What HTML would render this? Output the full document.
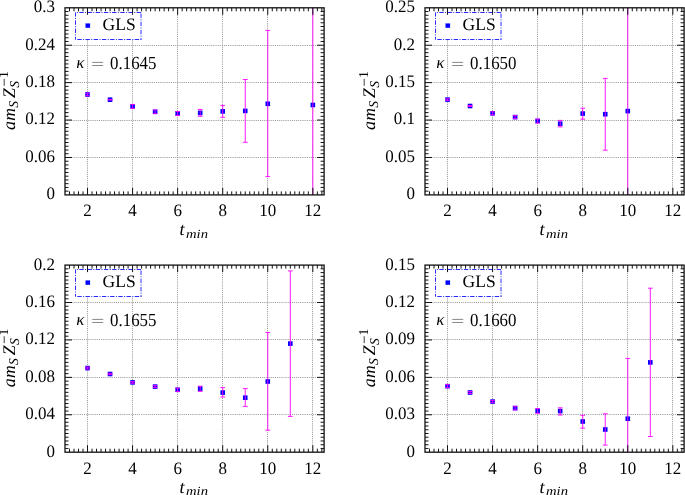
<!DOCTYPE html><html><head><meta charset="utf-8"><style>html,body{margin:0;padding:0;background:#fff;width:685px;height:495px;overflow:hidden}svg{display:block;will-change:transform}text{font-family:"Liberation Serif", serif;fill:#000;text-rendering:geometricPrecision}.i{font-style:italic}</style></head><body>
<svg width="685" height="495" viewBox="0 0 685 495">
<rect width="685" height="495" fill="#fff"/>
<g><defs><clipPath id="c00"><rect x="65" y="7.8" width="259.1" height="187.1"/></clipPath></defs><path d="M87.5 194V7.8M132.5 194V7.8M177.5 194V7.8M222.5 194V7.8M267.5 194V7.8M312.5 194V7.8M65 157.5H324.1M65 120.5H324.1M65 82.5H324.1M65 45.5H324.1" stroke="#999" stroke-width="1" stroke-dasharray="1.06 1.06" fill="none"/><g clip-path="url(#c00)"><rect x="85.23" y="92.2" width="4.6" height="4.6" fill="#0000ff"/><rect x="107.76" y="97.4" width="4.6" height="4.6" fill="#0000ff"/><rect x="130.29" y="104.1" width="4.6" height="4.6" fill="#0000ff"/><rect x="152.82" y="109.5" width="4.6" height="4.6" fill="#0000ff"/><rect x="175.35" y="111.2" width="4.6" height="4.6" fill="#0000ff"/><rect x="197.88" y="110.6" width="4.6" height="4.6" fill="#0000ff"/><rect x="220.41" y="109.1" width="4.6" height="4.6" fill="#0000ff"/><rect x="242.94" y="108.6" width="4.6" height="4.6" fill="#0000ff"/><rect x="265.47" y="101.5" width="4.6" height="4.6" fill="#0000ff"/><rect x="310.53" y="102.7" width="4.6" height="4.6" fill="#0000ff"/><path d="M87.53 93.2V95.8M85.13 93.2H89.93M85.13 95.8H89.93M110.06 99.4V100M107.66 99.4H112.46M107.66 100H112.46M132.59 104.4V108.4M130.19 104.4H134.99M130.19 108.4H134.99M155.12 110V113.6M152.72 110H157.52M152.72 113.6H157.52M177.65 111.5V115.5M175.25 111.5H180.05M175.25 115.5H180.05M200.18 109.4V116.3M197.78 109.4H202.58M197.78 116.3H202.58M222.71 105.4V117.3M220.31 105.4H225.11M220.31 117.3H225.11M245.24 79.5V142.3M242.84 79.5H247.64M242.84 142.3H247.64M267.77 30.4V176.6M265.37 30.4H270.17M265.37 176.6H270.17M312.83 -100V400M310.43 -100H315.23M310.43 400H315.23" stroke="#ff00ff" stroke-width="0.9" fill="none"/></g><rect x="75.5" y="12.5" width="66" height="27" fill="#fff"/><path d="M75.5 12.5H141.5" stroke="#2a2aff" stroke-width="1" stroke-dasharray="4.4 1.4 1 1.4" fill="none" stroke-dashoffset="4.4"/><path d="M75.5 39.5H141.5" stroke="#2a2aff" stroke-width="1" stroke-dasharray="4.4 1.4 1 1.4" fill="none" stroke-dashoffset="6.4"/><path d="M75.5 12.5V39.5" stroke="#2a2aff" stroke-width="1" stroke-dasharray="4.4 1.4 1 1.4" fill="none" stroke-dashoffset="0.3"/><path d="M141 12.5V39.5" stroke="#2a2aff" stroke-width="1" stroke-dasharray="4.4 1.4 1 1.4" fill="none" stroke-dashoffset="7.2"/><rect x="85.5" y="23.4" width="4.6" height="4.4" fill="#0000ff"/><text x="102.6" y="29.9" font-size="17.5">GLS</text><text class="i" x="76.3" y="68.2" font-size="17">κ</text><path d="M92.2 62.4H103.2M92.2 65.5H103.2" stroke="#888" stroke-width="1"/><text transform="translate(110.1 68.7) scale(0.91 1)" font-size="18.5">0.1645</text><path d="M69.51 194.9v-3.5M69.51 7.8v3.5M74.01 194.9v-3.5M74.01 7.8v3.5M78.52 194.9v-3.5M78.52 7.8v3.5M83.02 194.9v-3.5M83.02 7.8v3.5M87.53 194.9v-7M87.53 7.8v7M92.04 194.9v-3.5M92.04 7.8v3.5M96.54 194.9v-3.5M96.54 7.8v3.5M101.05 194.9v-3.5M101.05 7.8v3.5M105.55 194.9v-3.5M105.55 7.8v3.5M110.06 194.9v-3.5M110.06 7.8v3.5M114.57 194.9v-3.5M114.57 7.8v3.5M119.07 194.9v-3.5M119.07 7.8v3.5M123.58 194.9v-3.5M123.58 7.8v3.5M128.09 194.9v-3.5M128.09 7.8v3.5M132.59 194.9v-7M132.59 7.8v7M137.1 194.9v-3.5M137.1 7.8v3.5M141.6 194.9v-3.5M141.6 7.8v3.5M146.11 194.9v-3.5M146.11 7.8v3.5M150.62 194.9v-3.5M150.62 7.8v3.5M155.12 194.9v-3.5M155.12 7.8v3.5M159.63 194.9v-3.5M159.63 7.8v3.5M164.13 194.9v-3.5M164.13 7.8v3.5M168.64 194.9v-3.5M168.64 7.8v3.5M173.15 194.9v-3.5M173.15 7.8v3.5M177.65 194.9v-7M177.65 7.8v7M182.16 194.9v-3.5M182.16 7.8v3.5M186.66 194.9v-3.5M186.66 7.8v3.5M191.17 194.9v-3.5M191.17 7.8v3.5M195.68 194.9v-3.5M195.68 7.8v3.5M200.18 194.9v-3.5M200.18 7.8v3.5M204.69 194.9v-3.5M204.69 7.8v3.5M209.19 194.9v-3.5M209.19 7.8v3.5M213.7 194.9v-3.5M213.7 7.8v3.5M218.21 194.9v-3.5M218.21 7.8v3.5M222.71 194.9v-7M222.71 7.8v7M227.22 194.9v-3.5M227.22 7.8v3.5M231.73 194.9v-3.5M231.73 7.8v3.5M236.23 194.9v-3.5M236.23 7.8v3.5M240.74 194.9v-3.5M240.74 7.8v3.5M245.24 194.9v-3.5M245.24 7.8v3.5M249.75 194.9v-3.5M249.75 7.8v3.5M254.26 194.9v-3.5M254.26 7.8v3.5M258.76 194.9v-3.5M258.76 7.8v3.5M263.27 194.9v-3.5M263.27 7.8v3.5M267.77 194.9v-7M267.77 7.8v7M272.28 194.9v-3.5M272.28 7.8v3.5M276.79 194.9v-3.5M276.79 7.8v3.5M281.29 194.9v-3.5M281.29 7.8v3.5M285.8 194.9v-3.5M285.8 7.8v3.5M290.3 194.9v-3.5M290.3 7.8v3.5M294.81 194.9v-3.5M294.81 7.8v3.5M299.32 194.9v-3.5M299.32 7.8v3.5M303.82 194.9v-3.5M303.82 7.8v3.5M308.33 194.9v-3.5M308.33 7.8v3.5M312.83 194.9v-7M312.83 7.8v7M317.34 194.9v-3.5M317.34 7.8v3.5M321.85 194.9v-3.5M321.85 7.8v3.5M65 191.16h3.5M324.1 191.16h-3.5M65 187.42h3.5M324.1 187.42h-3.5M65 183.67h3.5M324.1 183.67h-3.5M65 179.93h3.5M324.1 179.93h-3.5M65 176.19h3.5M324.1 176.19h-3.5M65 172.45h3.5M324.1 172.45h-3.5M65 168.71h3.5M324.1 168.71h-3.5M65 164.96h3.5M324.1 164.96h-3.5M65 161.22h3.5M324.1 161.22h-3.5M65 157.48h7M324.1 157.48h-7M65 153.74h3.5M324.1 153.74h-3.5M65 150h3.5M324.1 150h-3.5M65 146.25h3.5M324.1 146.25h-3.5M65 142.51h3.5M324.1 142.51h-3.5M65 138.77h3.5M324.1 138.77h-3.5M65 135.03h3.5M324.1 135.03h-3.5M65 131.29h3.5M324.1 131.29h-3.5M65 127.54h3.5M324.1 127.54h-3.5M65 123.8h3.5M324.1 123.8h-3.5M65 120.06h7M324.1 120.06h-7M65 116.32h3.5M324.1 116.32h-3.5M65 112.58h3.5M324.1 112.58h-3.5M65 108.83h3.5M324.1 108.83h-3.5M65 105.09h3.5M324.1 105.09h-3.5M65 101.35h3.5M324.1 101.35h-3.5M65 97.61h3.5M324.1 97.61h-3.5M65 93.87h3.5M324.1 93.87h-3.5M65 90.12h3.5M324.1 90.12h-3.5M65 86.38h3.5M324.1 86.38h-3.5M65 82.64h7M324.1 82.64h-7M65 78.9h3.5M324.1 78.9h-3.5M65 75.16h3.5M324.1 75.16h-3.5M65 71.41h3.5M324.1 71.41h-3.5M65 67.67h3.5M324.1 67.67h-3.5M65 63.93h3.5M324.1 63.93h-3.5M65 60.19h3.5M324.1 60.19h-3.5M65 56.45h3.5M324.1 56.45h-3.5M65 52.7h3.5M324.1 52.7h-3.5M65 48.96h3.5M324.1 48.96h-3.5M65 45.22h7M324.1 45.22h-7M65 41.48h3.5M324.1 41.48h-3.5M65 37.74h3.5M324.1 37.74h-3.5M65 33.99h3.5M324.1 33.99h-3.5M65 30.25h3.5M324.1 30.25h-3.5M65 26.51h3.5M324.1 26.51h-3.5M65 22.77h3.5M324.1 22.77h-3.5M65 19.03h3.5M324.1 19.03h-3.5M65 15.28h3.5M324.1 15.28h-3.5M65 11.54h3.5M324.1 11.54h-3.5" stroke="#111" stroke-width="1" fill="none"/><rect x="65" y="7.8" width="259.1" height="187.1" fill="none" stroke="#111" stroke-width="1.3"/><text transform="translate(54.9 199.3) scale(0.97 1)" font-size="17.5" text-anchor="end">0</text><text transform="translate(54.9 161.88) scale(0.97 1)" font-size="17.5" text-anchor="end">0.06</text><text transform="translate(54.9 124.46) scale(0.97 1)" font-size="17.5" text-anchor="end">0.12</text><text transform="translate(54.9 87.04) scale(0.97 1)" font-size="17.5" text-anchor="end">0.18</text><text transform="translate(54.9 49.62) scale(0.97 1)" font-size="17.5" text-anchor="end">0.24</text><text transform="translate(54.9 12.2) scale(0.97 1)" font-size="17.5" text-anchor="end">0.3</text><text transform="translate(87.53 216.2) scale(0.97 1)" font-size="17.5" text-anchor="middle">2</text><text transform="translate(132.59 216.2) scale(0.97 1)" font-size="17.5" text-anchor="middle">4</text><text transform="translate(177.65 216.2) scale(0.97 1)" font-size="17.5" text-anchor="middle">6</text><text transform="translate(222.71 216.2) scale(0.97 1)" font-size="17.5" text-anchor="middle">8</text><text transform="translate(267.77 216.2) scale(0.97 1)" font-size="17.5" text-anchor="middle">10</text><text transform="translate(312.83 216.2) scale(0.97 1)" font-size="17.5" text-anchor="middle">12</text><text class="i" x="179.6" y="235.3" font-size="18">t</text><text class="i" x="186" y="237.5" font-size="12.5" textLength="22" lengthAdjust="spacingAndGlyphs">min</text><g transform="translate(14.8 131) rotate(-90)"><text class="i" x="1.1" y="0" font-size="18">a</text><text class="i" x="10.2" y="0" font-size="17.5">m</text><text class="i" x="23.3" y="3.2" font-size="13.5">S</text><text class="i" x="33.0" y="0" font-size="17.7">Z</text><text class="i" x="43.3" y="4.2" font-size="13.5">S</text><path d="M45.2 -10.6H52.1" stroke="#111" stroke-width="0.8"/><text x="52.9" y="-7.2" font-size="13.5">1</text></g></g>
<g><defs><clipPath id="c10"><rect x="425" y="7.8" width="259.1" height="187.1"/></clipPath></defs><path d="M447.5 194V7.8M492.5 194V7.8M537.5 194V7.8M582.5 194V7.8M627.5 194V7.8M672.5 194V7.8M425 157.5H684.1M425 120.5H684.1M425 82.5H684.1M425 45.5H684.1" stroke="#999" stroke-width="1" stroke-dasharray="1.06 1.06" fill="none"/><g clip-path="url(#c10)"><rect x="445.23" y="97.3" width="4.6" height="4.6" fill="#0000ff"/><rect x="467.76" y="103.7" width="4.6" height="4.6" fill="#0000ff"/><rect x="490.29" y="111" width="4.6" height="4.6" fill="#0000ff"/><rect x="512.82" y="114.8" width="4.6" height="4.6" fill="#0000ff"/><rect x="535.35" y="118.7" width="4.6" height="4.6" fill="#0000ff"/><rect x="557.88" y="121.4" width="4.6" height="4.6" fill="#0000ff"/><rect x="580.41" y="111.3" width="4.6" height="4.6" fill="#0000ff"/><rect x="602.94" y="111.9" width="4.6" height="4.6" fill="#0000ff"/><rect x="625.47" y="108.8" width="4.6" height="4.6" fill="#0000ff"/><path d="M447.53 98.8V100.4M445.13 98.8H449.93M445.13 100.4H449.93M470.06 105.5V106.5M467.66 105.5H472.46M467.66 106.5H472.46M492.59 111.8V114.8M490.19 111.8H494.99M490.19 114.8H494.99M515.12 115.6V118.6M512.72 115.6H517.52M512.72 118.6H517.52M537.65 119V123M535.25 119H540.05M535.25 123H540.05M560.18 120.4V126.9M557.78 120.4H562.58M557.78 126.9H562.58M582.71 108.2V119.2M580.31 108.2H585.11M580.31 119.2H585.11M605.24 78.4V150.2M602.84 78.4H607.64M602.84 150.2H607.64M627.77 -100V400M625.37 -100H630.17M625.37 400H630.17" stroke="#ff00ff" stroke-width="0.9" fill="none"/></g><rect x="435.5" y="12.5" width="66" height="27" fill="#fff"/><path d="M435.5 12.5H501.5" stroke="#2a2aff" stroke-width="1" stroke-dasharray="4.4 1.4 1 1.4" fill="none" stroke-dashoffset="4.4"/><path d="M435.5 39.5H501.5" stroke="#2a2aff" stroke-width="1" stroke-dasharray="4.4 1.4 1 1.4" fill="none" stroke-dashoffset="6.4"/><path d="M435.5 12.5V39.5" stroke="#2a2aff" stroke-width="1" stroke-dasharray="4.4 1.4 1 1.4" fill="none" stroke-dashoffset="0.3"/><path d="M501 12.5V39.5" stroke="#2a2aff" stroke-width="1" stroke-dasharray="4.4 1.4 1 1.4" fill="none" stroke-dashoffset="7.2"/><rect x="445.5" y="23.4" width="4.6" height="4.4" fill="#0000ff"/><text x="462.6" y="29.9" font-size="17.5">GLS</text><text class="i" x="436.3" y="68.2" font-size="17">κ</text><path d="M452.2 62.4H463.2M452.2 65.5H463.2" stroke="#888" stroke-width="1"/><text transform="translate(470.1 68.7) scale(0.91 1)" font-size="18.5">0.1650</text><path d="M429.51 194.9v-3.5M429.51 7.8v3.5M434.01 194.9v-3.5M434.01 7.8v3.5M438.52 194.9v-3.5M438.52 7.8v3.5M443.02 194.9v-3.5M443.02 7.8v3.5M447.53 194.9v-7M447.53 7.8v7M452.04 194.9v-3.5M452.04 7.8v3.5M456.54 194.9v-3.5M456.54 7.8v3.5M461.05 194.9v-3.5M461.05 7.8v3.5M465.55 194.9v-3.5M465.55 7.8v3.5M470.06 194.9v-3.5M470.06 7.8v3.5M474.57 194.9v-3.5M474.57 7.8v3.5M479.07 194.9v-3.5M479.07 7.8v3.5M483.58 194.9v-3.5M483.58 7.8v3.5M488.09 194.9v-3.5M488.09 7.8v3.5M492.59 194.9v-7M492.59 7.8v7M497.1 194.9v-3.5M497.1 7.8v3.5M501.6 194.9v-3.5M501.6 7.8v3.5M506.11 194.9v-3.5M506.11 7.8v3.5M510.62 194.9v-3.5M510.62 7.8v3.5M515.12 194.9v-3.5M515.12 7.8v3.5M519.63 194.9v-3.5M519.63 7.8v3.5M524.13 194.9v-3.5M524.13 7.8v3.5M528.64 194.9v-3.5M528.64 7.8v3.5M533.15 194.9v-3.5M533.15 7.8v3.5M537.65 194.9v-7M537.65 7.8v7M542.16 194.9v-3.5M542.16 7.8v3.5M546.66 194.9v-3.5M546.66 7.8v3.5M551.17 194.9v-3.5M551.17 7.8v3.5M555.68 194.9v-3.5M555.68 7.8v3.5M560.18 194.9v-3.5M560.18 7.8v3.5M564.69 194.9v-3.5M564.69 7.8v3.5M569.19 194.9v-3.5M569.19 7.8v3.5M573.7 194.9v-3.5M573.7 7.8v3.5M578.21 194.9v-3.5M578.21 7.8v3.5M582.71 194.9v-7M582.71 7.8v7M587.22 194.9v-3.5M587.22 7.8v3.5M591.73 194.9v-3.5M591.73 7.8v3.5M596.23 194.9v-3.5M596.23 7.8v3.5M600.74 194.9v-3.5M600.74 7.8v3.5M605.24 194.9v-3.5M605.24 7.8v3.5M609.75 194.9v-3.5M609.75 7.8v3.5M614.26 194.9v-3.5M614.26 7.8v3.5M618.76 194.9v-3.5M618.76 7.8v3.5M623.27 194.9v-3.5M623.27 7.8v3.5M627.77 194.9v-7M627.77 7.8v7M632.28 194.9v-3.5M632.28 7.8v3.5M636.79 194.9v-3.5M636.79 7.8v3.5M641.29 194.9v-3.5M641.29 7.8v3.5M645.8 194.9v-3.5M645.8 7.8v3.5M650.3 194.9v-3.5M650.3 7.8v3.5M654.81 194.9v-3.5M654.81 7.8v3.5M659.32 194.9v-3.5M659.32 7.8v3.5M663.82 194.9v-3.5M663.82 7.8v3.5M668.33 194.9v-3.5M668.33 7.8v3.5M672.83 194.9v-7M672.83 7.8v7M677.34 194.9v-3.5M677.34 7.8v3.5M681.85 194.9v-3.5M681.85 7.8v3.5M425 191.16h3.5M684.1 191.16h-3.5M425 187.42h3.5M684.1 187.42h-3.5M425 183.67h3.5M684.1 183.67h-3.5M425 179.93h3.5M684.1 179.93h-3.5M425 176.19h3.5M684.1 176.19h-3.5M425 172.45h3.5M684.1 172.45h-3.5M425 168.71h3.5M684.1 168.71h-3.5M425 164.96h3.5M684.1 164.96h-3.5M425 161.22h3.5M684.1 161.22h-3.5M425 157.48h7M684.1 157.48h-7M425 153.74h3.5M684.1 153.74h-3.5M425 150h3.5M684.1 150h-3.5M425 146.25h3.5M684.1 146.25h-3.5M425 142.51h3.5M684.1 142.51h-3.5M425 138.77h3.5M684.1 138.77h-3.5M425 135.03h3.5M684.1 135.03h-3.5M425 131.29h3.5M684.1 131.29h-3.5M425 127.54h3.5M684.1 127.54h-3.5M425 123.8h3.5M684.1 123.8h-3.5M425 120.06h7M684.1 120.06h-7M425 116.32h3.5M684.1 116.32h-3.5M425 112.58h3.5M684.1 112.58h-3.5M425 108.83h3.5M684.1 108.83h-3.5M425 105.09h3.5M684.1 105.09h-3.5M425 101.35h3.5M684.1 101.35h-3.5M425 97.61h3.5M684.1 97.61h-3.5M425 93.87h3.5M684.1 93.87h-3.5M425 90.12h3.5M684.1 90.12h-3.5M425 86.38h3.5M684.1 86.38h-3.5M425 82.64h7M684.1 82.64h-7M425 78.9h3.5M684.1 78.9h-3.5M425 75.16h3.5M684.1 75.16h-3.5M425 71.41h3.5M684.1 71.41h-3.5M425 67.67h3.5M684.1 67.67h-3.5M425 63.93h3.5M684.1 63.93h-3.5M425 60.19h3.5M684.1 60.19h-3.5M425 56.45h3.5M684.1 56.45h-3.5M425 52.7h3.5M684.1 52.7h-3.5M425 48.96h3.5M684.1 48.96h-3.5M425 45.22h7M684.1 45.22h-7M425 41.48h3.5M684.1 41.48h-3.5M425 37.74h3.5M684.1 37.74h-3.5M425 33.99h3.5M684.1 33.99h-3.5M425 30.25h3.5M684.1 30.25h-3.5M425 26.51h3.5M684.1 26.51h-3.5M425 22.77h3.5M684.1 22.77h-3.5M425 19.03h3.5M684.1 19.03h-3.5M425 15.28h3.5M684.1 15.28h-3.5M425 11.54h3.5M684.1 11.54h-3.5" stroke="#111" stroke-width="1" fill="none"/><rect x="425" y="7.8" width="259.1" height="187.1" fill="none" stroke="#111" stroke-width="1.3"/><text transform="translate(414.9 199.3) scale(0.97 1)" font-size="17.5" text-anchor="end">0</text><text transform="translate(414.9 161.88) scale(0.97 1)" font-size="17.5" text-anchor="end">0.05</text><text transform="translate(414.9 124.46) scale(0.97 1)" font-size="17.5" text-anchor="end">0.1</text><text transform="translate(414.9 87.04) scale(0.97 1)" font-size="17.5" text-anchor="end">0.15</text><text transform="translate(414.9 49.62) scale(0.97 1)" font-size="17.5" text-anchor="end">0.2</text><text transform="translate(414.9 12.2) scale(0.97 1)" font-size="17.5" text-anchor="end">0.25</text><text transform="translate(447.53 216.2) scale(0.97 1)" font-size="17.5" text-anchor="middle">2</text><text transform="translate(492.59 216.2) scale(0.97 1)" font-size="17.5" text-anchor="middle">4</text><text transform="translate(537.65 216.2) scale(0.97 1)" font-size="17.5" text-anchor="middle">6</text><text transform="translate(582.71 216.2) scale(0.97 1)" font-size="17.5" text-anchor="middle">8</text><text transform="translate(627.77 216.2) scale(0.97 1)" font-size="17.5" text-anchor="middle">10</text><text transform="translate(672.83 216.2) scale(0.97 1)" font-size="17.5" text-anchor="middle">12</text><text class="i" x="539.6" y="235.3" font-size="18">t</text><text class="i" x="546" y="237.5" font-size="12.5" textLength="22" lengthAdjust="spacingAndGlyphs">min</text><g transform="translate(374.8 131) rotate(-90)"><text class="i" x="1.1" y="0" font-size="18">a</text><text class="i" x="10.2" y="0" font-size="17.5">m</text><text class="i" x="23.3" y="3.2" font-size="13.5">S</text><text class="i" x="33.0" y="0" font-size="17.7">Z</text><text class="i" x="43.3" y="4.2" font-size="13.5">S</text><path d="M45.2 -10.6H52.1" stroke="#111" stroke-width="0.8"/><text x="52.9" y="-7.2" font-size="13.5">1</text></g></g>
<g><defs><clipPath id="c01"><rect x="65" y="265.1" width="259.1" height="187.1"/></clipPath></defs><path d="M87.5 452V265.1M132.5 452V265.1M177.5 452V265.1M222.5 452V265.1M267.5 452V265.1M312.5 452V265.1M65 414.5H324.1M65 377.5H324.1M65 339.5H324.1M65 302.5H324.1" stroke="#999" stroke-width="1" stroke-dasharray="1.06 1.06" fill="none"/><g clip-path="url(#c01)"><rect x="85.23" y="365.8" width="4.6" height="4.6" fill="#0000ff"/><rect x="107.76" y="371.7" width="4.6" height="4.6" fill="#0000ff"/><rect x="130.29" y="380.1" width="4.6" height="4.6" fill="#0000ff"/><rect x="152.82" y="384.3" width="4.6" height="4.6" fill="#0000ff"/><rect x="175.35" y="387.5" width="4.6" height="4.6" fill="#0000ff"/><rect x="197.88" y="386.3" width="4.6" height="4.6" fill="#0000ff"/><rect x="220.41" y="390.3" width="4.6" height="4.6" fill="#0000ff"/><rect x="242.94" y="395.4" width="4.6" height="4.6" fill="#0000ff"/><rect x="265.47" y="379.2" width="4.6" height="4.6" fill="#0000ff"/><rect x="288" y="341.3" width="4.6" height="4.6" fill="#0000ff"/><path d="M87.53 367.1V369.1M85.13 367.1H89.93M85.13 369.1H89.93M110.06 373.3V374.7M107.66 373.3H112.46M107.66 374.7H112.46M132.59 381.6V383.2M130.19 381.6H134.99M130.19 383.2H134.99M155.12 385.6V387.6M152.72 385.6H157.52M152.72 387.6H157.52M177.65 388.1V391.5M175.25 388.1H180.05M175.25 391.5H180.05M200.18 386.2V391.4M197.78 386.2H202.58M197.78 391.4H202.58M222.71 387.6V397M220.31 387.6H225.11M220.31 397H225.11M245.24 388.6V406.4M242.84 388.6H247.64M242.84 406.4H247.64M267.77 332.5V430.2M265.37 332.5H270.17M265.37 430.2H270.17M290.3 270.9V416.4M287.9 270.9H292.7M287.9 416.4H292.7" stroke="#ff00ff" stroke-width="0.9" fill="none"/></g><rect x="75.5" y="269.5" width="66" height="27" fill="#fff"/><path d="M75.5 269.5H141.5" stroke="#2a2aff" stroke-width="1" stroke-dasharray="4.4 1.4 1 1.4" fill="none" stroke-dashoffset="4.4"/><path d="M75.5 296.5H141.5" stroke="#2a2aff" stroke-width="1" stroke-dasharray="4.4 1.4 1 1.4" fill="none" stroke-dashoffset="6.4"/><path d="M75.5 269.5V296.5" stroke="#2a2aff" stroke-width="1" stroke-dasharray="4.4 1.4 1 1.4" fill="none" stroke-dashoffset="0.3"/><path d="M141 269.5V296.5" stroke="#2a2aff" stroke-width="1" stroke-dasharray="4.4 1.4 1 1.4" fill="none" stroke-dashoffset="7.2"/><rect x="85.5" y="280.4" width="4.6" height="4.4" fill="#0000ff"/><text x="102.6" y="286.9" font-size="17.5">GLS</text><text class="i" x="76.3" y="325.2" font-size="17">κ</text><path d="M92.2 319.4H103.2M92.2 322.5H103.2" stroke="#888" stroke-width="1"/><text transform="translate(110.1 325.7) scale(0.91 1)" font-size="18.5">0.1655</text><path d="M69.51 452.2v-3.5M69.51 265.1v3.5M74.01 452.2v-3.5M74.01 265.1v3.5M78.52 452.2v-3.5M78.52 265.1v3.5M83.02 452.2v-3.5M83.02 265.1v3.5M87.53 452.2v-7M87.53 265.1v7M92.04 452.2v-3.5M92.04 265.1v3.5M96.54 452.2v-3.5M96.54 265.1v3.5M101.05 452.2v-3.5M101.05 265.1v3.5M105.55 452.2v-3.5M105.55 265.1v3.5M110.06 452.2v-3.5M110.06 265.1v3.5M114.57 452.2v-3.5M114.57 265.1v3.5M119.07 452.2v-3.5M119.07 265.1v3.5M123.58 452.2v-3.5M123.58 265.1v3.5M128.09 452.2v-3.5M128.09 265.1v3.5M132.59 452.2v-7M132.59 265.1v7M137.1 452.2v-3.5M137.1 265.1v3.5M141.6 452.2v-3.5M141.6 265.1v3.5M146.11 452.2v-3.5M146.11 265.1v3.5M150.62 452.2v-3.5M150.62 265.1v3.5M155.12 452.2v-3.5M155.12 265.1v3.5M159.63 452.2v-3.5M159.63 265.1v3.5M164.13 452.2v-3.5M164.13 265.1v3.5M168.64 452.2v-3.5M168.64 265.1v3.5M173.15 452.2v-3.5M173.15 265.1v3.5M177.65 452.2v-7M177.65 265.1v7M182.16 452.2v-3.5M182.16 265.1v3.5M186.66 452.2v-3.5M186.66 265.1v3.5M191.17 452.2v-3.5M191.17 265.1v3.5M195.68 452.2v-3.5M195.68 265.1v3.5M200.18 452.2v-3.5M200.18 265.1v3.5M204.69 452.2v-3.5M204.69 265.1v3.5M209.19 452.2v-3.5M209.19 265.1v3.5M213.7 452.2v-3.5M213.7 265.1v3.5M218.21 452.2v-3.5M218.21 265.1v3.5M222.71 452.2v-7M222.71 265.1v7M227.22 452.2v-3.5M227.22 265.1v3.5M231.73 452.2v-3.5M231.73 265.1v3.5M236.23 452.2v-3.5M236.23 265.1v3.5M240.74 452.2v-3.5M240.74 265.1v3.5M245.24 452.2v-3.5M245.24 265.1v3.5M249.75 452.2v-3.5M249.75 265.1v3.5M254.26 452.2v-3.5M254.26 265.1v3.5M258.76 452.2v-3.5M258.76 265.1v3.5M263.27 452.2v-3.5M263.27 265.1v3.5M267.77 452.2v-7M267.77 265.1v7M272.28 452.2v-3.5M272.28 265.1v3.5M276.79 452.2v-3.5M276.79 265.1v3.5M281.29 452.2v-3.5M281.29 265.1v3.5M285.8 452.2v-3.5M285.8 265.1v3.5M290.3 452.2v-3.5M290.3 265.1v3.5M294.81 452.2v-3.5M294.81 265.1v3.5M299.32 452.2v-3.5M299.32 265.1v3.5M303.82 452.2v-3.5M303.82 265.1v3.5M308.33 452.2v-3.5M308.33 265.1v3.5M312.83 452.2v-7M312.83 265.1v7M317.34 452.2v-3.5M317.34 265.1v3.5M321.85 452.2v-3.5M321.85 265.1v3.5M65 448.46h3.5M324.1 448.46h-3.5M65 444.72h3.5M324.1 444.72h-3.5M65 440.97h3.5M324.1 440.97h-3.5M65 437.23h3.5M324.1 437.23h-3.5M65 433.49h3.5M324.1 433.49h-3.5M65 429.75h3.5M324.1 429.75h-3.5M65 426.01h3.5M324.1 426.01h-3.5M65 422.26h3.5M324.1 422.26h-3.5M65 418.52h3.5M324.1 418.52h-3.5M65 414.78h7M324.1 414.78h-7M65 411.04h3.5M324.1 411.04h-3.5M65 407.3h3.5M324.1 407.3h-3.5M65 403.55h3.5M324.1 403.55h-3.5M65 399.81h3.5M324.1 399.81h-3.5M65 396.07h3.5M324.1 396.07h-3.5M65 392.33h3.5M324.1 392.33h-3.5M65 388.59h3.5M324.1 388.59h-3.5M65 384.84h3.5M324.1 384.84h-3.5M65 381.1h3.5M324.1 381.1h-3.5M65 377.36h7M324.1 377.36h-7M65 373.62h3.5M324.1 373.62h-3.5M65 369.88h3.5M324.1 369.88h-3.5M65 366.13h3.5M324.1 366.13h-3.5M65 362.39h3.5M324.1 362.39h-3.5M65 358.65h3.5M324.1 358.65h-3.5M65 354.91h3.5M324.1 354.91h-3.5M65 351.17h3.5M324.1 351.17h-3.5M65 347.42h3.5M324.1 347.42h-3.5M65 343.68h3.5M324.1 343.68h-3.5M65 339.94h7M324.1 339.94h-7M65 336.2h3.5M324.1 336.2h-3.5M65 332.46h3.5M324.1 332.46h-3.5M65 328.71h3.5M324.1 328.71h-3.5M65 324.97h3.5M324.1 324.97h-3.5M65 321.23h3.5M324.1 321.23h-3.5M65 317.49h3.5M324.1 317.49h-3.5M65 313.75h3.5M324.1 313.75h-3.5M65 310h3.5M324.1 310h-3.5M65 306.26h3.5M324.1 306.26h-3.5M65 302.52h7M324.1 302.52h-7M65 298.78h3.5M324.1 298.78h-3.5M65 295.04h3.5M324.1 295.04h-3.5M65 291.29h3.5M324.1 291.29h-3.5M65 287.55h3.5M324.1 287.55h-3.5M65 283.81h3.5M324.1 283.81h-3.5M65 280.07h3.5M324.1 280.07h-3.5M65 276.33h3.5M324.1 276.33h-3.5M65 272.58h3.5M324.1 272.58h-3.5M65 268.84h3.5M324.1 268.84h-3.5" stroke="#111" stroke-width="1" fill="none"/><rect x="65" y="265.1" width="259.1" height="187.1" fill="none" stroke="#111" stroke-width="1.3"/><text transform="translate(54.9 456.6) scale(0.97 1)" font-size="17.5" text-anchor="end">0</text><text transform="translate(54.9 419.18) scale(0.97 1)" font-size="17.5" text-anchor="end">0.04</text><text transform="translate(54.9 381.76) scale(0.97 1)" font-size="17.5" text-anchor="end">0.08</text><text transform="translate(54.9 344.34) scale(0.97 1)" font-size="17.5" text-anchor="end">0.12</text><text transform="translate(54.9 306.92) scale(0.97 1)" font-size="17.5" text-anchor="end">0.16</text><text transform="translate(54.9 269.5) scale(0.97 1)" font-size="17.5" text-anchor="end">0.2</text><text transform="translate(87.53 473.5) scale(0.97 1)" font-size="17.5" text-anchor="middle">2</text><text transform="translate(132.59 473.5) scale(0.97 1)" font-size="17.5" text-anchor="middle">4</text><text transform="translate(177.65 473.5) scale(0.97 1)" font-size="17.5" text-anchor="middle">6</text><text transform="translate(222.71 473.5) scale(0.97 1)" font-size="17.5" text-anchor="middle">8</text><text transform="translate(267.77 473.5) scale(0.97 1)" font-size="17.5" text-anchor="middle">10</text><text transform="translate(312.83 473.5) scale(0.97 1)" font-size="17.5" text-anchor="middle">12</text><text class="i" x="179.6" y="492.6" font-size="18">t</text><text class="i" x="186" y="494.8" font-size="12.5" textLength="22" lengthAdjust="spacingAndGlyphs">min</text><g transform="translate(14.8 388.3) rotate(-90)"><text class="i" x="1.1" y="0" font-size="18">a</text><text class="i" x="10.2" y="0" font-size="17.5">m</text><text class="i" x="23.3" y="3.2" font-size="13.5">S</text><text class="i" x="33.0" y="0" font-size="17.7">Z</text><text class="i" x="43.3" y="4.2" font-size="13.5">S</text><path d="M45.2 -10.6H52.1" stroke="#111" stroke-width="0.8"/><text x="52.9" y="-7.2" font-size="13.5">1</text></g></g>
<g><defs><clipPath id="c11"><rect x="425" y="265.1" width="259.1" height="187.1"/></clipPath></defs><path d="M447.5 452V265.1M492.5 452V265.1M537.5 452V265.1M582.5 452V265.1M627.5 452V265.1M672.5 452V265.1M425 414.5H684.1M425 377.5H684.1M425 339.5H684.1M425 302.5H684.1" stroke="#999" stroke-width="1" stroke-dasharray="1.06 1.06" fill="none"/><g clip-path="url(#c11)"><rect x="445.23" y="383.9" width="4.6" height="4.6" fill="#0000ff"/><rect x="467.76" y="390.2" width="4.6" height="4.6" fill="#0000ff"/><rect x="490.29" y="399.3" width="4.6" height="4.6" fill="#0000ff"/><rect x="512.82" y="405.8" width="4.6" height="4.6" fill="#0000ff"/><rect x="535.35" y="408.5" width="4.6" height="4.6" fill="#0000ff"/><rect x="557.88" y="408.8" width="4.6" height="4.6" fill="#0000ff"/><rect x="580.41" y="419.2" width="4.6" height="4.6" fill="#0000ff"/><rect x="602.94" y="427.2" width="4.6" height="4.6" fill="#0000ff"/><rect x="625.47" y="416.4" width="4.6" height="4.6" fill="#0000ff"/><rect x="648" y="360.1" width="4.6" height="4.6" fill="#0000ff"/><path d="M447.53 384.7V387.7M445.13 384.7H449.93M445.13 387.7H449.93M470.06 391.5V393.5M467.66 391.5H472.46M467.66 393.5H472.46M492.59 400.4V402.8M490.19 400.4H494.99M490.19 402.8H494.99M515.12 406.3V409.9M512.72 406.3H517.52M512.72 409.9H517.52M537.65 408.6V413.3M535.25 408.6H540.05M535.25 413.3H540.05M560.18 407.8V415M557.78 407.8H562.58M557.78 415H562.58M582.71 415.3V428.2M580.31 415.3H585.11M580.31 428.2H585.11M605.24 413.8V445.1M602.84 413.8H607.64M602.84 445.1H607.64M627.77 358.4V600M625.37 358.4H630.17M625.37 600H630.17M650.3 288.2V436.5M647.9 288.2H652.7M647.9 436.5H652.7" stroke="#ff00ff" stroke-width="0.9" fill="none"/></g><rect x="435.5" y="269.5" width="66" height="27" fill="#fff"/><path d="M435.5 269.5H501.5" stroke="#2a2aff" stroke-width="1" stroke-dasharray="4.4 1.4 1 1.4" fill="none" stroke-dashoffset="4.4"/><path d="M435.5 296.5H501.5" stroke="#2a2aff" stroke-width="1" stroke-dasharray="4.4 1.4 1 1.4" fill="none" stroke-dashoffset="6.4"/><path d="M435.5 269.5V296.5" stroke="#2a2aff" stroke-width="1" stroke-dasharray="4.4 1.4 1 1.4" fill="none" stroke-dashoffset="0.3"/><path d="M501 269.5V296.5" stroke="#2a2aff" stroke-width="1" stroke-dasharray="4.4 1.4 1 1.4" fill="none" stroke-dashoffset="7.2"/><rect x="445.5" y="280.4" width="4.6" height="4.4" fill="#0000ff"/><text x="462.6" y="286.9" font-size="17.5">GLS</text><text class="i" x="436.3" y="325.2" font-size="17">κ</text><path d="M452.2 319.4H463.2M452.2 322.5H463.2" stroke="#888" stroke-width="1"/><text transform="translate(470.1 325.7) scale(0.91 1)" font-size="18.5">0.1660</text><path d="M429.51 452.2v-3.5M429.51 265.1v3.5M434.01 452.2v-3.5M434.01 265.1v3.5M438.52 452.2v-3.5M438.52 265.1v3.5M443.02 452.2v-3.5M443.02 265.1v3.5M447.53 452.2v-7M447.53 265.1v7M452.04 452.2v-3.5M452.04 265.1v3.5M456.54 452.2v-3.5M456.54 265.1v3.5M461.05 452.2v-3.5M461.05 265.1v3.5M465.55 452.2v-3.5M465.55 265.1v3.5M470.06 452.2v-3.5M470.06 265.1v3.5M474.57 452.2v-3.5M474.57 265.1v3.5M479.07 452.2v-3.5M479.07 265.1v3.5M483.58 452.2v-3.5M483.58 265.1v3.5M488.09 452.2v-3.5M488.09 265.1v3.5M492.59 452.2v-7M492.59 265.1v7M497.1 452.2v-3.5M497.1 265.1v3.5M501.6 452.2v-3.5M501.6 265.1v3.5M506.11 452.2v-3.5M506.11 265.1v3.5M510.62 452.2v-3.5M510.62 265.1v3.5M515.12 452.2v-3.5M515.12 265.1v3.5M519.63 452.2v-3.5M519.63 265.1v3.5M524.13 452.2v-3.5M524.13 265.1v3.5M528.64 452.2v-3.5M528.64 265.1v3.5M533.15 452.2v-3.5M533.15 265.1v3.5M537.65 452.2v-7M537.65 265.1v7M542.16 452.2v-3.5M542.16 265.1v3.5M546.66 452.2v-3.5M546.66 265.1v3.5M551.17 452.2v-3.5M551.17 265.1v3.5M555.68 452.2v-3.5M555.68 265.1v3.5M560.18 452.2v-3.5M560.18 265.1v3.5M564.69 452.2v-3.5M564.69 265.1v3.5M569.19 452.2v-3.5M569.19 265.1v3.5M573.7 452.2v-3.5M573.7 265.1v3.5M578.21 452.2v-3.5M578.21 265.1v3.5M582.71 452.2v-7M582.71 265.1v7M587.22 452.2v-3.5M587.22 265.1v3.5M591.73 452.2v-3.5M591.73 265.1v3.5M596.23 452.2v-3.5M596.23 265.1v3.5M600.74 452.2v-3.5M600.74 265.1v3.5M605.24 452.2v-3.5M605.24 265.1v3.5M609.75 452.2v-3.5M609.75 265.1v3.5M614.26 452.2v-3.5M614.26 265.1v3.5M618.76 452.2v-3.5M618.76 265.1v3.5M623.27 452.2v-3.5M623.27 265.1v3.5M627.77 452.2v-7M627.77 265.1v7M632.28 452.2v-3.5M632.28 265.1v3.5M636.79 452.2v-3.5M636.79 265.1v3.5M641.29 452.2v-3.5M641.29 265.1v3.5M645.8 452.2v-3.5M645.8 265.1v3.5M650.3 452.2v-3.5M650.3 265.1v3.5M654.81 452.2v-3.5M654.81 265.1v3.5M659.32 452.2v-3.5M659.32 265.1v3.5M663.82 452.2v-3.5M663.82 265.1v3.5M668.33 452.2v-3.5M668.33 265.1v3.5M672.83 452.2v-7M672.83 265.1v7M677.34 452.2v-3.5M677.34 265.1v3.5M681.85 452.2v-3.5M681.85 265.1v3.5M425 448.46h3.5M684.1 448.46h-3.5M425 444.72h3.5M684.1 444.72h-3.5M425 440.97h3.5M684.1 440.97h-3.5M425 437.23h3.5M684.1 437.23h-3.5M425 433.49h3.5M684.1 433.49h-3.5M425 429.75h3.5M684.1 429.75h-3.5M425 426.01h3.5M684.1 426.01h-3.5M425 422.26h3.5M684.1 422.26h-3.5M425 418.52h3.5M684.1 418.52h-3.5M425 414.78h7M684.1 414.78h-7M425 411.04h3.5M684.1 411.04h-3.5M425 407.3h3.5M684.1 407.3h-3.5M425 403.55h3.5M684.1 403.55h-3.5M425 399.81h3.5M684.1 399.81h-3.5M425 396.07h3.5M684.1 396.07h-3.5M425 392.33h3.5M684.1 392.33h-3.5M425 388.59h3.5M684.1 388.59h-3.5M425 384.84h3.5M684.1 384.84h-3.5M425 381.1h3.5M684.1 381.1h-3.5M425 377.36h7M684.1 377.36h-7M425 373.62h3.5M684.1 373.62h-3.5M425 369.88h3.5M684.1 369.88h-3.5M425 366.13h3.5M684.1 366.13h-3.5M425 362.39h3.5M684.1 362.39h-3.5M425 358.65h3.5M684.1 358.65h-3.5M425 354.91h3.5M684.1 354.91h-3.5M425 351.17h3.5M684.1 351.17h-3.5M425 347.42h3.5M684.1 347.42h-3.5M425 343.68h3.5M684.1 343.68h-3.5M425 339.94h7M684.1 339.94h-7M425 336.2h3.5M684.1 336.2h-3.5M425 332.46h3.5M684.1 332.46h-3.5M425 328.71h3.5M684.1 328.71h-3.5M425 324.97h3.5M684.1 324.97h-3.5M425 321.23h3.5M684.1 321.23h-3.5M425 317.49h3.5M684.1 317.49h-3.5M425 313.75h3.5M684.1 313.75h-3.5M425 310h3.5M684.1 310h-3.5M425 306.26h3.5M684.1 306.26h-3.5M425 302.52h7M684.1 302.52h-7M425 298.78h3.5M684.1 298.78h-3.5M425 295.04h3.5M684.1 295.04h-3.5M425 291.29h3.5M684.1 291.29h-3.5M425 287.55h3.5M684.1 287.55h-3.5M425 283.81h3.5M684.1 283.81h-3.5M425 280.07h3.5M684.1 280.07h-3.5M425 276.33h3.5M684.1 276.33h-3.5M425 272.58h3.5M684.1 272.58h-3.5M425 268.84h3.5M684.1 268.84h-3.5" stroke="#111" stroke-width="1" fill="none"/><rect x="425" y="265.1" width="259.1" height="187.1" fill="none" stroke="#111" stroke-width="1.3"/><text transform="translate(414.9 456.6) scale(0.97 1)" font-size="17.5" text-anchor="end">0</text><text transform="translate(414.9 419.18) scale(0.97 1)" font-size="17.5" text-anchor="end">0.03</text><text transform="translate(414.9 381.76) scale(0.97 1)" font-size="17.5" text-anchor="end">0.06</text><text transform="translate(414.9 344.34) scale(0.97 1)" font-size="17.5" text-anchor="end">0.09</text><text transform="translate(414.9 306.92) scale(0.97 1)" font-size="17.5" text-anchor="end">0.12</text><text transform="translate(414.9 269.5) scale(0.97 1)" font-size="17.5" text-anchor="end">0.15</text><text transform="translate(447.53 473.5) scale(0.97 1)" font-size="17.5" text-anchor="middle">2</text><text transform="translate(492.59 473.5) scale(0.97 1)" font-size="17.5" text-anchor="middle">4</text><text transform="translate(537.65 473.5) scale(0.97 1)" font-size="17.5" text-anchor="middle">6</text><text transform="translate(582.71 473.5) scale(0.97 1)" font-size="17.5" text-anchor="middle">8</text><text transform="translate(627.77 473.5) scale(0.97 1)" font-size="17.5" text-anchor="middle">10</text><text transform="translate(672.83 473.5) scale(0.97 1)" font-size="17.5" text-anchor="middle">12</text><text class="i" x="539.6" y="492.6" font-size="18">t</text><text class="i" x="546" y="494.8" font-size="12.5" textLength="22" lengthAdjust="spacingAndGlyphs">min</text><g transform="translate(374.8 388.3) rotate(-90)"><text class="i" x="1.1" y="0" font-size="18">a</text><text class="i" x="10.2" y="0" font-size="17.5">m</text><text class="i" x="23.3" y="3.2" font-size="13.5">S</text><text class="i" x="33.0" y="0" font-size="17.7">Z</text><text class="i" x="43.3" y="4.2" font-size="13.5">S</text><path d="M45.2 -10.6H52.1" stroke="#111" stroke-width="0.8"/><text x="52.9" y="-7.2" font-size="13.5">1</text></g></g>
</svg></body></html>
